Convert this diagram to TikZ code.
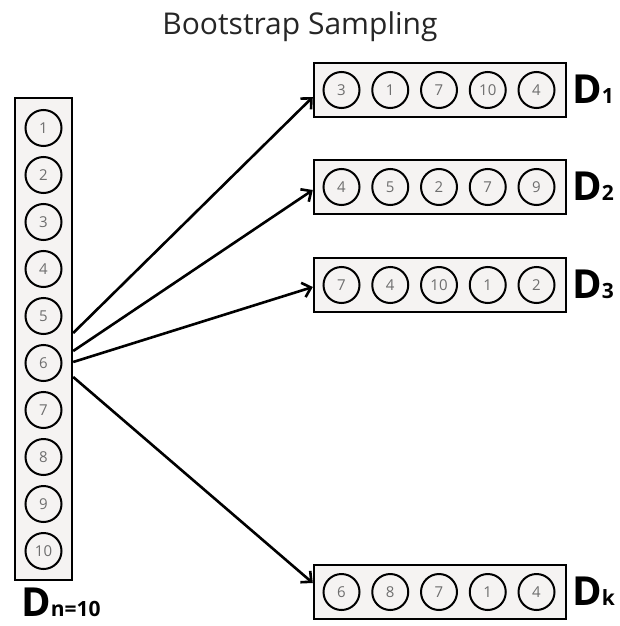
\documentclass[tikz,border=0pt]{standalone}
\usepackage{fontspec}
\setmainfont{Open Sans}
\usetikzlibrary{arrows.meta,calc}
\definecolor{boxfill}{HTML}{F5F3F2}
\definecolor{numgray}{HTML}{6E6E6E}
\tikzset{
  holder/.style={draw=black, line width=2.4pt, fill=boxfill, inner sep=0pt},
  ball/.style={circle, draw=black, line width=2pt, fill=boxfill, minimum size=36pt, inner sep=0pt, font=\fontsize{15}{15}\selectfont, text=numgray},
  conn/.style={line width=2.6pt, -{Straight Barb[length=8pt,width=15pt,line width=2.6pt]}},
  dlabel/.style={anchor=base west, inner sep=0pt, text depth=0pt, font=\fontsize{40}{40}\selectfont\bfseries},
}
\newcommand{\dsub}[1]{{\fontsize{21}{21}\selectfont\bfseries #1}}
\begin{document}
\begin{tikzpicture}[x=1pt,y=-1pt]
\useasboundingbox (0,0) rectangle (620,626);
% title
\node[anchor=base, inner sep=0pt, font=\fontsize{30}{30}\selectfont, text=black!85] (title) at (300,35) {Bootstrap Sampling};
% left column
\node[holder, minimum width=57pt, minimum height=482pt] (L) at (43.5,339) {};
\foreach \n [count=\i from 0] in {1,...,10} {
  \node[ball] (l\n) at (43.5,128+47*\i) {\n};
}
\node[dlabel] (Dn) at (21,616) {D\dsub{n=10}};
% right rows
\foreach \r/\cy/\lst in {1/90/{3,1,7,10,4}, 2/187/{4,5,2,7,9}, 3/285/{7,4,10,1,2}, k/592/{6,8,7,1,4}} {
  \node[holder, minimum width=252pt, minimum height=54pt] (R\r) at (440,\cy) {};
  \foreach \v [count=\j from 0] in \lst {
    \node[ball] (r\r-\j) at (341.5+48.75*\j,\cy) {\v};
  }
  \node[dlabel] (lab\r) at (572,\cy+13) {D\dsub{\r}};
}
% connectors
\coordinate (s1) at ($(L.east)+(0,-6)$);
\coordinate (s2) at ($(L.east)+(0,12)$);
\coordinate (s3) at ($(L.east)+(0,23)$);
\coordinate (s4) at ($(L.east)+(0,38)$);
\draw[conn] (s1) -- ([yshift=-7pt]R1.west);
\draw[conn] (s2) -- ([yshift=-3pt]R2.west);
\draw[conn] (s3) -- ([yshift=-2pt]R3.west);
\draw[conn] (s4) -- ([yshift=9pt]Rk.west);
\end{tikzpicture}
\end{document}
